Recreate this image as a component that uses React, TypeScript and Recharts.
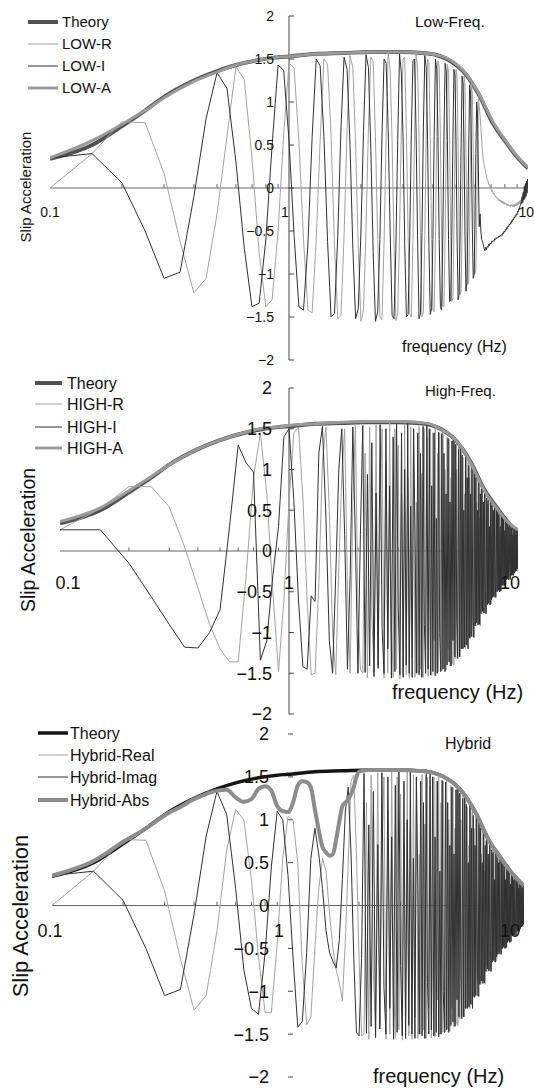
import React from 'react';
import { LineChart, Line, XAxis, YAxis, ReferenceLine, ReferenceDot } from 'recharts';

// Spectra are sampled on 0.05 Hz bins starting at 0.1 Hz.
const F0 = 0.1;
const DF = 0.05;

// Theoretical slip acceleration amplitude
const THEORY_F = [0.1, 0.15, 0.2, 0.25, 0.3, 0.4, 0.5, 0.6, 0.75, 0.9, 1, 1.3, 1.7, 2.2, 3, 3.6, 4.1, 4.5, 4.9, 5.3, 5.7, 6.3, 7.1, 8, 9, 10];
const THEORY = [0.34, 0.5, 0.72, 0.9, 1.06, 1.25, 1.36, 1.43, 1.49, 1.52, 1.53, 1.56, 1.57, 1.58, 1.58, 1.57, 1.55, 1.51, 1.45, 1.37, 1.26, 1.06, 0.76, 0.55, 0.36, 0.23];

// Low-frequency estimate (one row = 0.4 Hz, 8 bins)
const LOW_R = [
  0.0, 0.4, 0.77, 0.76, 0.17, -0.62, -1.22, -1.05,
  -0.3, 0.6, 1.41, 1.26, 0.35, -0.75, -1.38, -1.3,
  -0.5, 0.62, 1.45, 1.4, 0.55, -0.6, -1.42, -1.45,
  -0.6, 0.55, 1.5, 1.44, 0.6, -0.66, -1.52, -1.48,
  -0.55, 0.68, 1.54, 1.4, 0.5, -0.72, -1.55, -1.42,
  -0.48, 0.7, 1.52, 1.48, 0.6, -0.6, -1.5, -1.53,
  -0.62, 0.6, 1.57, 1.38, 0.55, -0.68, -1.54, -1.46,
  -0.56, 0.66, 1.5, 1.52, 0.66, -0.55, -1.46, -1.5,
  -0.6, 0.58, 1.55, 1.42, 0.58, -0.64, -1.5, -1.44,
  -0.55, 0.62, 1.5, 1.46, 0.6, -0.6, -1.42, -1.44,
  -0.58, 0.6, 1.48, 1.4, 0.56, -0.58, -1.36, -1.38,
  -0.55, 0.56, 1.44, 1.36, 0.52, -0.56, -1.32, -1.28,
  -0.5, 0.55, 1.38, 1.3, 0.5, -0.52, -1.24, -1.2,
  -0.48, 0.5, 1.3, 1.2, 0.45, -0.5, -1.12, -1.08,
  -0.42, 0.45, 1.2, 1.1, 0.42, -0.45, -1.0, -0.95,
  -0.4, 0.4, 1.05, 0.95, 0.85, 0.7, 0.55, 0.42,
  0.33, 0.27, 0.23, 0.17, 0.15, 0.09, 0.08, 0.04,
  0.04, 0.0, -0.01, -0.04, -0.03, -0.07, -0.06, -0.09,
  -0.09, -0.11, -0.1, -0.13, -0.12, -0.15, -0.13, -0.16,
  -0.14, -0.17, -0.15, -0.18, -0.16, -0.19, -0.17, -0.19,
  -0.18, -0.2, -0.19, -0.21, -0.19, -0.21, -0.2, -0.22,
  -0.19, -0.21, -0.2, -0.22, -0.19, -0.22, -0.19, -0.21,
  -0.18, -0.21, -0.17, -0.2, -0.16, -0.19, -0.15, -0.18,
  -0.14, -0.17, -0.11, -0.18, -0.07, -0.16, -0.04, -0.13,
  0.02, -0.1, 0.06, -0.08, 0.08, -0.04, 0.04,
];
const LOW_I = [
  0.35, 0.4, 0.06, -0.5, -1.05, -0.98, -0.1, 0.81,
  1.34, 1.16, 0.3, -0.7, -1.38, -1.34, -0.6, 0.5,
  1.43, 1.37, 0.55, -0.55, -1.38, -1.42, -0.65, 0.6,
  1.5, 1.42, 0.6, -0.62, -1.5, -1.46, -0.55, 0.7,
  1.52, 1.38, 0.5, -0.7, -1.52, -1.4, -0.5, 0.66,
  1.55, 1.4, 0.45, -0.75, -1.55, -1.44, -0.6, 0.62,
  1.5, 1.45, 0.68, -0.5, -1.48, -1.52, -0.7, 0.55,
  1.56, 1.35, 0.6, -0.66, -1.5, -1.47, -0.58, 0.64,
  1.48, 1.5, 0.7, -0.55, -1.52, -1.45, -0.52, 0.7,
  1.54, 1.4, 0.56, -0.68, -1.47, -1.4, -0.6, 0.62,
  1.5, 1.38, 0.6, -0.6, -1.38, -1.42, -0.58, 0.6,
  1.45, 1.36, 0.55, -0.6, -1.32, -1.3, -0.55, 0.56,
  1.38, 1.3, 0.5, -0.58, -1.3, -1.24, -0.5, 0.52,
  1.3, 1.2, 0.48, -0.55, -1.2, -1.1, -0.45, 0.5,
  1.2, 1.1, 0.42, -0.48, -1.05, -1.0, -0.42, 0.4,
  1.0, 0.85, 0.2, -0.45, -0.3, -0.5, -0.6, -0.62,
  -0.66, -0.7, -0.73, -0.69, -0.72, -0.68, -0.69, -0.65,
  -0.67, -0.64, -0.65, -0.62, -0.63, -0.61, -0.62, -0.59,
  -0.6, -0.58, -0.59, -0.57, -0.58, -0.56, -0.57, -0.55,
  -0.56, -0.54, -0.55, -0.52, -0.53, -0.5, -0.51, -0.48,
  -0.49, -0.46, -0.47, -0.44, -0.45, -0.42, -0.43, -0.4,
  -0.41, -0.38, -0.39, -0.36, -0.37, -0.34, -0.35, -0.32,
  -0.33, -0.3, -0.31, -0.27, -0.28, -0.24, -0.25, -0.21,
  -0.2, -0.17, -0.18, -0.1, -0.17, -0.05, -0.14, 0.02,
  -0.12, 0.05, -0.1, 0.08, -0.06, 0.1, 0.0,
];
const LOW_A = [0.35, 0.55, 0.74, 0.9, 1.05, 1.24, 1.35, 1.43, 1.49, 1.52, 1.53, 1.56, 1.57, 1.58, 1.58, 1.57, 1.55, 1.52, 1.46, 1.38, 1.27, 1.07, 0.78, 0.56, 0.37, 0.24];

// High-frequency estimate; above ~2 Hz neighbouring bins flip sign
const HIGH_R = [
  0.26, 0.52, 0.79, 0.79, 0.54, 0.05, -0.45, -0.9,
  -1.2, -1.36, -1.36, -0.3, 0.9, 1.45, 0.7, -0.5,
  -1.48, -0.6, 0.6, 1.45, 1.52, 0.65, -0.6, -1.52,
  -1.5, -0.4, 1.1, 1.52, 0.5, -1.0, -1.52, -0.2,
  0.9, 1.5, -0.5, -1.5, 0.6, 1.55, -0.7, -1.45,
  -1.5, 1.2, -1.56, 1.52, -0.8, -1.48, 1.55, -1.4,
  0.6, 1.5, -1.56, 1.1, -1.5, 1.57, -0.9, -1.55,
  1.5, -1.45, 1.3, -1.57, 0.7, -1.5, 1.56, -1.52,
  0.9, -1.56, 1.52, -1.3, 1.48, -1.55, 0.6, -1.5,
  1.53, -1.45, 0.95, -1.55, 1.5, -1.2, 1.4, -1.54,
  -0.7, 1.5, -1.53, 1.45, -1.1, 1.52, -1.5, 1.2,
  -1.48, 1.45, -0.6, -1.47, 1.48, -1.44, 1.0, -1.46,
  1.4, -1.2, 1.38, -1.41, 0.9, -1.39, 1.36, -1.4,
  1.3, -1.32, 1.0, -1.28, 1.31, -0.6, -1.3, 1.28,
  -1.2, 1.15, -1.19, 0.7, -1.2, 1.18, -1.16, 1.1,
  -1.06, 0.9, -1.07, 1.05, -0.6, -1.05, 1.04, -1.06,
  0.9, -0.92, 0.6, -0.9, 0.91, -0.88, 0.4, -0.92,
  0.76, -0.7, 0.75, -0.77, 0.5, -0.76, 0.74, -0.75,
  -0.66, 0.6, -0.65, 0.64, -0.4, -0.66, 0.63, -0.65,
  -0.57, 0.55, -0.54, 0.3, -0.57, 0.56, -0.55, 0.5,
  0.49, -0.5, 0.4, -0.49, 0.48, -0.5, 0.2, -0.49,
  0.42, -0.43, 0.38, -0.42, 0.41, -0.3, -0.43, 0.4,
  0.35, -0.34, 0.33, -0.35, 0.1, -0.35, 0.34, -0.33,
  -0.3, 0.29, -0.28, 0.25, -0.3, 0.28, -0.29, 0.2,
  -0.25, 0.24, -0.23, 0.21, -0.25, 0.22, -0.2,
];
const HIGH_I = [
  0.26, 0.26, -0.15, -0.56, -0.9, -1.18, -1.19, -1.0,
  -0.72, 0.3, 1.3, 1.08, 0.97, -1.34, -1.1, -0.3,
  0.3, 1.4, 1.5, 0.62, -0.6, -1.42, -1.45, -0.55,
  -0.62, 1.2, 1.53, 0.4, -1.1, -1.5, -0.3, 1.0,
  1.5, 0.2, -1.45, -0.3, 1.52, 0.1, -1.5, 0.2,
  1.54, -1.49, 0.94, -1.41, 1.33, -1.54, 0.71, -1.44,
  1.55, -0.95, -1.5, 1.5, -1.2, 0.8, -1.56, 1.4,
  -1.48, 1.56, -0.7, -1.52, 1.45, -1.55, 1.0, -1.4,
  1.57, -1.5, 0.55, -1.55, 1.5, 0.2, -1.5, 1.45,
  -1.52, 1.2, -1.55, 1.53, -0.9, -1.5, 1.55, -1.45,
  1.5, -1.52, 0.8, -1.48, 1.45, -1.53, 0.4, -1.5,
  1.46, -1.0, -1.48, 1.44, -1.45, 1.2, -1.48, 0.7,
  -1.4, 1.38, -1.36, 0.6, -1.41, 1.35, -1.1, 1.39,
  -1.3, 1.31, -0.8, -1.32, 1.25, -1.3, 1.3, -1.2,
  1.18, -1.2, 0.5, -1.18, 1.19, -1.15, 0.9, -1.2,
  1.05, -1.07, 0.7, -1.05, 1.06, -0.8, -1.06, 1.0,
  -0.92, 0.9, -0.88, 0.5, -0.91, 0.89, -0.9, 0.7,
  -0.77, 0.76, -0.74, 0.6, -0.76, 0.75, -0.5, -0.77,
  0.65, -0.66, 0.62, -0.64, 0.3, -0.66, 0.64, -0.6,
  0.56, -0.57, 0.5, -0.56, 0.55, -0.4, -0.57, 0.54,
  -0.5, 0.49, -0.48, 0.45, -0.5, 0.3, -0.49, 0.48,
  -0.43, 0.42, -0.41, 0.4, -0.43, 0.25, -0.42, 0.41,
  -0.35, 0.35, -0.34, 0.3, -0.35, 0.33, -0.2, -0.35,
  0.29, -0.3, 0.28, -0.29, 0.2, -0.3, 0.28, -0.27,
  0.25, -0.25, 0.2, -0.24, 0.24, -0.22, 0.23,
];
const HIGH_A = [0.36, 0.53, 0.74, 0.91, 1.06, 1.25, 1.36, 1.43, 1.5, 1.52, 1.54, 1.56, 1.58, 1.59, 1.59, 1.58, 1.56, 1.51, 1.45, 1.37, 1.26, 1.05, 0.75, 0.54, 0.36, 0.26];

// Hybrid: crossover band 0.5 - 2.05 Hz; below it the low estimate, above it the high one
const HYB_R_MID = [
  -0.3, 0.65, 1.12, 1.0, 0.3, -0.6, -1.25, -1.25,
  -0.45, 0.55, 1.04, 1.0, 0.5, -0.7, -1.39, -1.3,
  -0.5, 0.2, 0.55, 0.4, -0.1, -0.5, -0.75, -0.9,
  -1.11, -0.4, 0.5, 1.45, 1.52, 0.6, -0.6, -1.52,
];
const HYB_I_MID = [
  1.33, 1.06, 0.2, -0.75, -1.2, -1.27, -0.55, 0.45,
  1.1, 1.0, 0.35, -0.6, -1.42, -1.35, -0.55, 0.55,
  0.9, 0.6, 0.2, -0.3, -0.55, -0.65, -0.73, -0.4,
  0.3, 1.1, 1.38, 0.6, -0.62, -1.48, -1.52, -0.62,
];
const HYB_A_F = [0.1, 0.15, 0.2, 0.25, 0.3, 0.35, 0.4, 0.45, 0.5, 0.55, 0.6, 0.65, 0.7, 0.75, 0.8, 0.85, 0.9, 0.95, 1, 1.05, 1.1, 1.15, 1.2, 1.25, 1.3, 1.35, 1.4, 1.45, 1.5, 1.55, 1.6, 1.65, 1.7, 1.75, 1.8, 1.85, 1.9, 1.95, 2, 2.2, 2.6, 3, 3.6, 4.1, 4.5, 4.9, 5.3, 5.7, 6.3, 7.1, 8, 9, 10];
const HYB_A = [0.35, 0.52, 0.74, 0.9, 1.05, 1.15, 1.24, 1.3, 1.34, 1.35, 1.26, 1.21, 1.24, 1.36, 1.39, 1.34, 1.16, 1.1, 1.09, 1.2, 1.4, 1.45, 1.44, 1.38, 1.12, 0.88, 0.68, 0.62, 0.58, 0.6, 0.77, 0.98, 1.16, 1.2, 1.24, 1.3, 1.38, 1.5, 1.56, 1.58, 1.58, 1.58, 1.57, 1.55, 1.51, 1.45, 1.37, 1.26, 1.06, 0.76, 0.55, 0.36, 0.23];

const HYB_R = [...LOW_R.slice(0, 8), ...HYB_R_MID, ...HIGH_R.slice(40)];
const HYB_I = [...LOW_I.slice(0, 8), ...HYB_I_MID, ...HIGH_I.slice(40)];

const Y_TICKS = [2, 1.5, 1, 0.5, 0, -0.5, -1, -1.5, -2];
const X_LABELS = [0.1, 1, 10];
const X_MINOR = [0.2, 0.3, 0.4, 0.5, 0.6, 0.7, 0.8, 0.9, 2, 3, 4, 5, 6, 7, 8, 9];

type Pt = { f: number; v: number };
const binned = (vals: number[]): Pt[] => vals.map((v, i) => ({ f: F0 + i * DF, v }));
const paired = (fs: number[], vals: number[]): Pt[] => fs.map((f, i) => ({ f, v: vals[i] }));

const FONT = '"Liberation Sans", Arial, Helvetica, sans-serif';
const fmt = (v: number) => (v < 0 ? `\u2212${-v}` : `${v}`);

type Series = { name: string; data: Pt[]; color: string; width: number; smooth?: boolean };

type Layout = {
  top: number;
  height: number;
  margin: { top: number; right: number; bottom: number; left: number };
  yLine: boolean;
  tickFont: number;
  yGap: number;
  xDy: number;
  xLabel: Record<string, { anchor: 'start' | 'middle' | 'end'; dx: number }>;
  legendY: number[];
  legendX: [number, number, number];
  legendFont: number;
  title: string;
  titlePos: [number, number, number];
  freqPos: [number, number, number];
  slipPos: [number, number, number];
};

function Panel({ layout, series }: { layout: Layout; series: Series[] }) {
  const L = layout;
  return (
    <div style={{ position: 'absolute', left: 0, top: L.top, width: 534, height: L.height }}>
      <LineChart width={534} height={L.height} margin={L.margin}>
        <XAxis dataKey="f" type="number" scale="log" domain={[0.1, 10]} allowDataOverflow hide />
        <YAxis type="number" domain={[-2, 2]} allowDataOverflow hide />
        <ReferenceLine y={0} stroke="#666" strokeWidth={1} />
        {L.yLine && <ReferenceLine x={1} stroke="#444" strokeWidth={1} />}
        {X_MINOR.map((f) => (
          <ReferenceLine key={`m${f}`} segment={[{ x: f, y: 0 }, { x: f, y: 0.045 }]} stroke="#666" />
        ))}
        {Y_TICKS.map((v) => (
          <ReferenceLine key={`t${v}`} segment={[{ x: 1, y: v }, { x: 1.05, y: v }]} stroke="#444" />
        ))}
        {Y_TICKS.map((v) => (
          <ReferenceDot
            key={`y${v}`}
            x={1}
            y={v}
            r={0}
            shape={(d: any) => (
              <text x={d.cx - L.yGap} y={d.cy + L.tickFont * 0.36} textAnchor="end" fontSize={L.tickFont} fontFamily={FONT} fill="#111">
                {fmt(v)}
              </text>
            )}
          />
        ))}
        {X_LABELS.map((f) => (
          <ReferenceDot
            key={`x${f}`}
            x={f}
            y={0}
            r={0}
            shape={(d: any) => (
              <text
                x={d.cx + L.xLabel[String(f)].dx}
                y={d.cy + L.xDy + L.tickFont * 0.36}
                textAnchor={L.xLabel[String(f)].anchor}
                fontSize={L.tickFont}
                fontFamily={FONT}
                fill="#111"
              >
                {f}
              </text>
            )}
          />
        ))}
        {series.map((s) => (
          <Line
            key={s.name}
            data={s.data}
            dataKey="v"
            type={s.smooth ? 'monotone' : 'linear'}
            stroke={s.color}
            strokeWidth={s.width}
            dot={false}
            activeDot={false}
            isAnimationActive={false}
          />
        ))}
      </LineChart>
      <svg width={534} height={L.height} style={{ position: 'absolute', left: 0, top: 0, pointerEvents: 'none' }}>
        {series.map((s, k) => (
          <g key={s.name}>
            <line x1={L.legendX[0]} x2={L.legendX[1]} y1={L.legendY[k]} y2={L.legendY[k]} stroke={s.color} strokeWidth={s.width} />
            <text x={L.legendX[2]} y={L.legendY[k] + L.legendFont * 0.36} fontSize={L.legendFont} fontFamily={FONT} fill="#111">
              {s.name}
            </text>
          </g>
        ))}
        <text x={L.titlePos[0]} y={L.titlePos[1] + L.titlePos[2] * 0.36} fontSize={L.titlePos[2]} fontFamily={FONT} fill="#111">
          {L.title}
        </text>
        <text x={L.freqPos[0]} y={L.freqPos[1] + L.freqPos[2] * 0.36} fontSize={L.freqPos[2]} fontFamily={FONT} fill="#111">
          frequency (Hz)
        </text>
        <text
          x={L.slipPos[0]}
          y={L.slipPos[1]}
          fontSize={L.slipPos[2]}
          fontFamily={FONT}
          fill="#111"
          textAnchor="middle"
          dominantBaseline="central"
          transform={`rotate(-90 ${L.slipPos[0]} ${L.slipPos[1]})`}
        >
          Slip Acceleration
        </text>
      </svg>
    </div>
  );
}

const R_COLOR = '#a2a2a2';
const I_COLOR = '#303030';

const LOW_LAYOUT: Layout = {
  top: 0,
  height: 368,
  margin: { top: 16, right: 6, bottom: 8, left: 50 },
  yLine: true,
  tickFont: 14,
  yGap: 15,
  xDy: 24,
  xLabel: { '0.1': { anchor: 'middle', dx: 0 }, '1': { anchor: 'middle', dx: -4 }, '10': { anchor: 'end', dx: 6 } },
  legendY: [22, 44, 66, 88],
  legendX: [28, 58, 62],
  legendFont: 15,
  title: 'Low-Freq.',
  titlePos: [415, 21, 15.5],
  freqPos: [402, 346, 16],
  slipPos: [25, 187, 15],
};

const HIGH_LAYOUT: Layout = {
  top: 368,
  height: 362,
  margin: { top: 20, right: 16, bottom: 16, left: 60 },
  yLine: true,
  tickFont: 18,
  yGap: 17,
  xDy: 32,
  xLabel: { '0.1': { anchor: 'middle', dx: 8 }, '1': { anchor: 'middle', dx: 0 }, '10': { anchor: 'end', dx: 2 } },
  legendY: [15, 36, 59, 80],
  legendX: [35, 62, 67],
  legendFont: 16,
  title: 'High-Freq.',
  titlePos: [425, 23, 15],
  freqPos: [392, 324, 20],
  slipPos: [28, 172, 19.5],
};

const HYB_LAYOUT: Layout = {
  top: 720,
  height: 368,
  margin: { top: 14, right: 10, bottom: 11, left: 52 },
  yLine: false,
  tickFont: 18,
  yGap: 19,
  xDy: 25,
  xLabel: { '0.1': { anchor: 'middle', dx: -2 }, '1': { anchor: 'end', dx: -4 }, '10': { anchor: 'end', dx: -4 } },
  legendY: [13, 35, 57, 80],
  legendX: [38, 68, 70],
  legendFont: 16,
  title: 'Hybrid',
  titlePos: [445, 23, 16],
  freqPos: [373, 356, 20],
  slipPos: [20, 196, 22],
};

export default function App() {
  const low: Series[] = [
    { name: 'Theory', data: paired(THEORY_F, THEORY), color: '#505050', width: 4, smooth: true },
    { name: 'LOW-R', data: binned(LOW_R), color: R_COLOR, width: 1 },
    { name: 'LOW-I', data: binned(LOW_I), color: I_COLOR, width: 1 },
    { name: 'LOW-A', data: paired(THEORY_F, LOW_A), color: '#9a9a9a', width: 3, smooth: true },
  ];
  const high: Series[] = [
    { name: 'Theory', data: paired(THEORY_F, THEORY), color: '#505050', width: 4, smooth: true },
    { name: 'HIGH-R', data: binned(HIGH_R), color: R_COLOR, width: 1 },
    { name: 'HIGH-I', data: binned(HIGH_I), color: I_COLOR, width: 1 },
    { name: 'HIGH-A', data: paired(THEORY_F, HIGH_A), color: '#9a9a9a', width: 3, smooth: true },
  ];
  const hybrid: Series[] = [
    { name: 'Theory', data: paired(THEORY_F, THEORY), color: '#151515', width: 3.5, smooth: true },
    { name: 'Hybrid-Real', data: binned(HYB_R), color: R_COLOR, width: 1 },
    { name: 'Hybrid-Imag', data: binned(HYB_I), color: I_COLOR, width: 1 },
    { name: 'Hybrid-Abs', data: paired(HYB_A_F, HYB_A), color: '#8c8c8c', width: 4, smooth: true },
  ];
  return (
    <div style={{ position: 'absolute', left: 0, top: 0, width: 534, height: 1088, background: '#fff' }}>
      <Panel layout={LOW_LAYOUT} series={low} />
      <Panel layout={HIGH_LAYOUT} series={high} />
      <Panel layout={HYB_LAYOUT} series={hybrid} />
    </div>
  );
}
